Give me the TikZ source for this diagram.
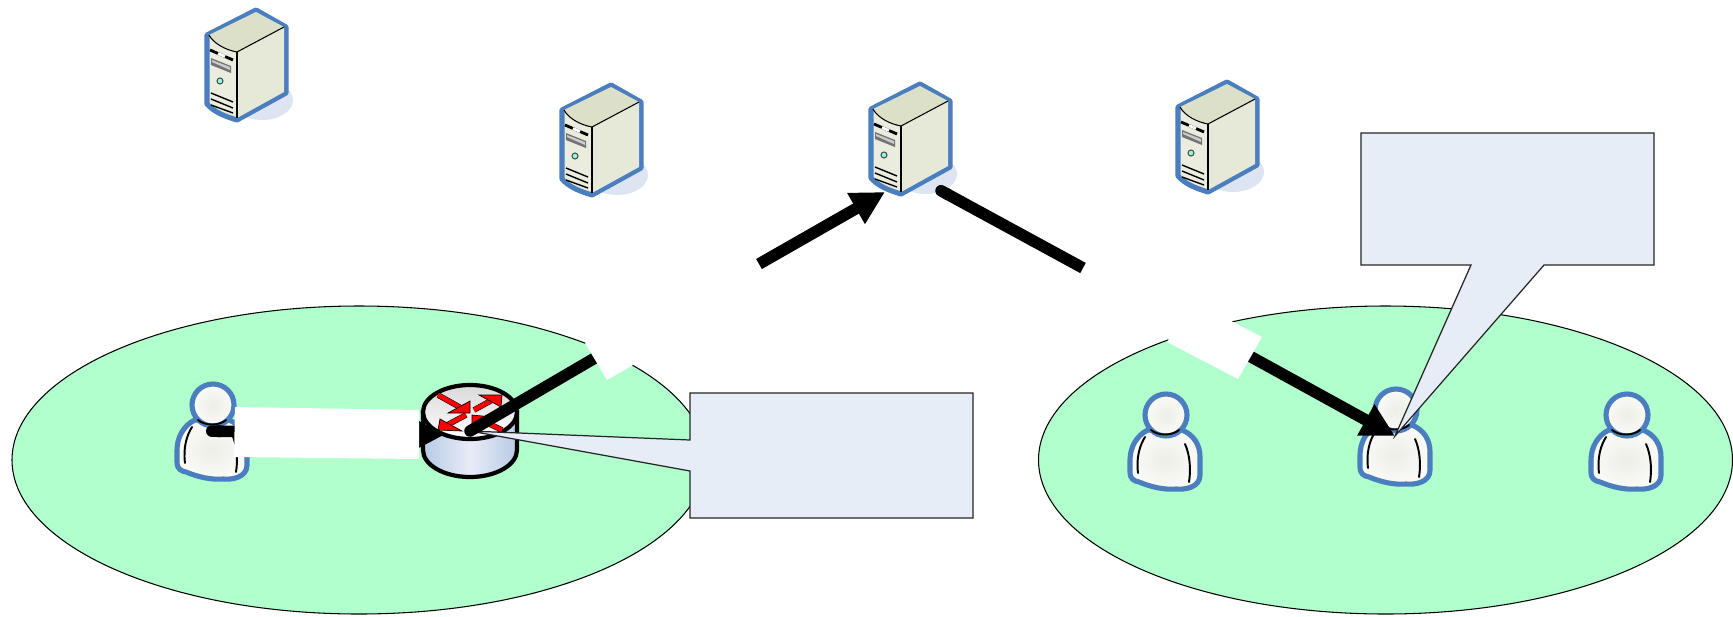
\documentclass[tikz,border=0pt]{standalone}
\usetikzlibrary{arrows.meta,calc}
\definecolor{zonegreen}{RGB}{176,255,204}
\definecolor{calloutfill}{RGB}{230,237,247}
\definecolor{iconblue}{RGB}{74,126,190}
\definecolor{shadowblue}{RGB}{222,229,242}
\definecolor{srvfront}{RGB}{234,236,222}
\definecolor{srvside}{RGB}{230,233,215}
\definecolor{srvtop}{RGB}{220,224,200}
\definecolor{bodyin}{RGB}{238,238,232}
\definecolor{bodyout}{RGB}{250,250,247}
\definecolor{cylside}{RGB}{184,202,228}
\definecolor{cyllight}{RGB}{232,236,248}
\tikzset{
  x=0.02cm,y=-0.02cm,
  zone/.style={fill=zonegreen,draw=black,line width=0.6pt},
  callout/.style={fill=calloutfill,draw=black!85,line width=0.7pt,line join=miter},
  mask/.style={fill=white,draw=none},
  heavy/.style={draw=black,line width=6.6pt},
  heavyarrow/.style={heavy,-{Triangle[length=19pt,width=19pt]}},
  iconline/.style={draw=iconblue,line width=2.9pt,line join=round},
  inkline/.style={draw=black,line width=1.1pt,line cap=round},
  pics/srv/.style={code={
    \fill[shadowblue] (6,92) ellipse [x radius=31,y radius=20];
    \path[iconline,fill=srvfront] (0,2) -- (30,19) -- (30,85) -- (-19,112)
      .. controls (-32,108) and (-42,104) .. (-49,96) -- (-49,27) -- cycle;
    \fill[srvside] (-19,44) -- (28,19) -- (28,84) -- (-19,110) -- cycle;
    \fill[srvtop] (-47,27) -- (0,4) -- (28,19) -- (-19,44) .. controls (-30,42) and (-42,36) .. (-47,27) -- cycle;
    \draw[black,line width=0.6pt] (-47,27) .. controls (-42,36) and (-30,42) .. (-19,44) -- (28,19);
    \draw[black,line width=0.7pt] (-19,44) -- (-19,110);
    \fill[black!55] (-45,50) -- (-25,58) -- (-25,65) -- (-45,57) -- cycle;
    \fill[white!80!black] (-44,52) -- (-26,59) -- (-26,62) -- (-44,54) -- cycle;
    \draw[black,line width=1.6pt] (-46,42) -- (-23,52);
    \draw[white,line width=1.6pt] (-38,45.5) -- (-31,48.5);
    \draw[black!70,fill=green!30!cyan!45!white,line width=0.6pt] (-36,73) circle (3);
    \draw[black,line width=0.8pt] (-45,85) -- (-23,94) (-45,91) -- (-23,100) (-45,97) -- (-23,105);
  }},
  pics/person/.style={code={
    \path[iconline,inner color=bodyin,outer color=bodyout]
      (-18,15) .. controls (-29,20) and (-36,32) .. (-36,45) -- (-36,57)
      .. controls (-36,64) and (-32,66) .. (-27,67)
      .. controls (-15,72) and (-2,75) .. (10,74)
      .. controls (20,75) and (34,72) .. (34,60) -- (34,42)
      .. controls (34,30) and (28,20) .. (16,15) -- cycle;
    \path[iconline,inner color=bodyin,outer color=bodyout] (0,0) circle (21);
    \draw[inkline] (-15,15) .. controls (-8,21) and (6,21) .. (13,15);
    \draw[inkline] (-21,22) .. controls (-26,30) and (-30,42) .. (-28,58);
    \draw[inkline] (19,29) .. controls (24,40) and (25,55) .. (23,67);
  }},
  redshaft/.style={draw=red,line width=2.6pt},
  redrim/.style={draw=black,line width=3.2pt},
  redhead/.style={fill=red,draw=black,line width=0.4pt,line join=miter},
  pics/routerbox/.style={code={
    \path[draw=black,line width=2.4pt,left color=cylside,right color=cylside,middle color=cyllight]
      (-47,0) -- (-47,38) arc [start angle=180,end angle=0,x radius=47,y radius=27] -- (47,0) -- cycle;
    \path[draw=black,line width=2.4pt,top color=black!15,bottom color=white] (0,0) ellipse [x radius=47,y radius=27];
    \foreach \ax/\ay/\bx/\by in {-32/-17/-7/-3, 4/-2/24/-13, -4/3/-23/13, 32/18/9/7}{
      \draw[redrim] (\ax,\ay) -- (\bx,\by);
      \draw[redshaft] (\ax,\ay) -- (\bx,\by);
    }
    \path[redhead] (0,1) -- (0,-11) -- (-22,1) -- cycle;
    \path[redhead] (32,-17) -- (9,-17) -- (31,-5) -- cycle;
    \path[redhead] (-32,18) -- (-30,7) -- (-8,19) -- cycle;
    \path[redhead] (2,3) -- (2,16) -- (22,5) -- cycle;
  }}
}
\begin{document}
\begin{tikzpicture}
\useasboundingbox (0,0) rectangle (1733,616);
\fill[white] (0,0) rectangle (1733,616);

\coordinate (srvA) at (256,8);
\coordinate (srvB) at (611,83);
\coordinate (srvC) at (920,82);
\coordinate (srvD) at (1227,80);
\coordinate (userA) at (213,405);
\coordinate (userB) at (1166,415);
\coordinate (userC) at (1396,410);
\coordinate (userD) at (1627,415);
\coordinate (router) at (470,412);

\coordinate (routerHub) at (470,431);
\coordinate (userAStub) at (206,431);
\coordinate (routerTip) at (444,435);
\coordinate (upLeftEnd) at (600,355);
\coordinate (midInTail) at (759,264);
\coordinate (srvCTip) at (885,192);
\coordinate (srvCOut) at (936,188);
\coordinate (midOutEnd) at (1083,268);
\coordinate (downRightStart) at (1235,348);
\coordinate (userCTip) at (1395,436);

\path[zone] (359,460) ellipse [x radius=347,y radius=154];
\path[zone] (1385.5,460) ellipse [x radius=347,y radius=154];

\pic at (srvA) {srv};
\pic at (srvB) {srv};
\pic at (srvC) {srv};
\pic at (srvD) {srv};
\pic at (userA) {person};
\pic at (userB) {person};
\pic at (userC) {person};
\pic at (userD) {person};
\pic at (router) {routerbox};

\path[callout] (690,393) -- (973,393) -- (973,518) -- (690,518) -- (690,471) -- (routerHub) -- (690,440) -- cycle;

\draw[heavy,{Round Cap[]}-{Triangle[length=19pt,width=19pt]}] (userAStub) -- (routerTip);
\draw[heavy,line cap=round] (routerHub) -- (upLeftEnd);
\draw[heavyarrow] (midInTail) -- (srvCTip);
\draw[heavy,{Round Cap[]}-] (srvCOut) -- (midOutEnd);
\draw[heavyarrow] (downRightStart) -- (userCTip);

\path[mask] (235,407) -- (419,410) -- (419,459) -- (234,457) -- cycle;
\path[mask] (585,343) -- (607,380) -- (633,365) -- (611,328) -- cycle;
\path[mask] (1167,342) -- (1238,379) -- (1262,337) -- (1191,300) -- cycle;

\path[callout] (1361,133) -- (1654,133) -- (1654,265) -- (1544,265) -- (userCTip) -- (1471,265) -- (1361,265) -- cycle;
\end{tikzpicture}
\end{document}
